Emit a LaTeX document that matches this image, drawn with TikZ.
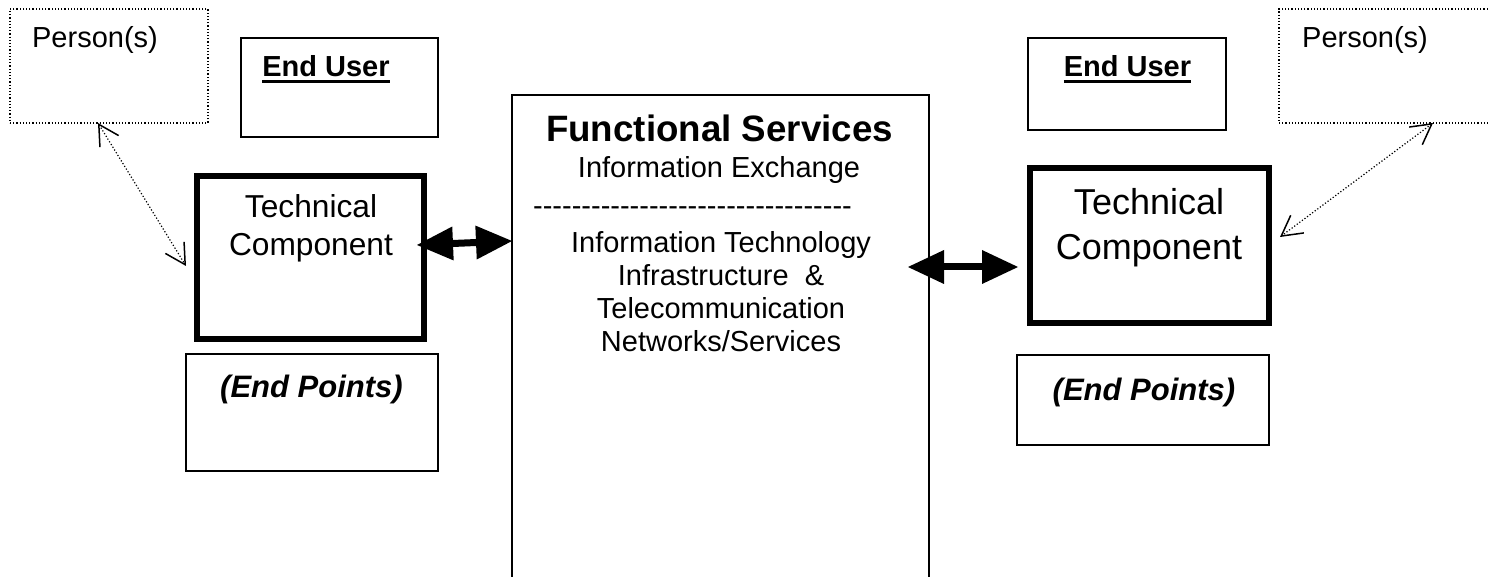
\documentclass[tikz,border=0pt]{standalone}
\usepackage{fontspec}
\setmainfont{Liberation Sans}
\usetikzlibrary{arrows.meta}
\newcommand\fsz[2]{\fontsize{#1}{#2}\selectfont}
\newcommand\linestack[1]{\begin{tabular}[t]{@{}c@{}}#1\end{tabular}}
\newcommand\hy{\mbox{-}}
\newcommand\hyten{\hy\hy\hy\hy\hy\hy\hy\hy\hy\hy}
\begin{document}
\begin{tikzpicture}[x=1pt,y=-1pt,
  box/.style={draw, line width=2pt, inner sep=0pt, outer sep=0pt},
  dotbox/.style={draw, line width=1.2pt, dotted, inner sep=0pt, outer sep=0pt},
  thickbox/.style={draw, line width=6pt, inner sep=0pt, outer sep=0pt},
  txt/.style={inner sep=0pt, outer sep=0pt, anchor=base},
  bigarrow/.style={line width=7pt,
    {Triangle[length=36pt,width=34pt,line width=0pt]}-{Triangle[length=36pt,width=34pt,line width=0pt]}},
  thinarrow/.style={line width=1.2pt, dotted,
    {Straight Barb[length=20pt,width=22pt,line width=1.5pt]}-{Straight Barb[length=20pt,width=22pt,line width=1.5pt]}},
]
\useasboundingbox (0,0) rectangle (1488,577);
\clip (0,0) rectangle (1488,577);

% boxes
\node[dotbox, minimum width=198pt, minimum height=114pt] (lp) at (109,66) {};
\node[dotbox, minimum width=281pt, minimum height=114pt] (rp) at (1419.5,66) {};
\node[box, minimum width=197pt, minimum height=99pt] (leu) at (339,87.5) {};
\node[box, minimum width=198pt, minimum height=92pt] (reu) at (1127,84) {};
\node[thickbox, minimum width=227pt, minimum height=163pt] (ltc) at (310.5,257.5) {};
\node[thickbox, minimum width=239pt, minimum height=155pt] (rtc) at (1149.5,245.5) {};
\node[box, minimum width=252pt, minimum height=117pt] (lep) at (312,412.5) {};
\node[box, minimum width=252pt, minimum height=90pt] (rep) at (1143,400) {};
\node[box, minimum width=417pt, minimum height=605pt] (cs) at (720.5,397.5) {};

% texts
\node[txt] (lpt) at (95,48) {\fsz{29}{33}Person(s)};
\node[txt] (rpt) at (1365,48) {\fsz{29}{33}Person(s)};
\node[txt] (leut) at (326,77) {\fsz{29}{33}\bfseries End User};
\node[txt] (reut) at (1127.5,77) {\fsz{29}{33}\bfseries End User};
\draw[line width=3pt] ([yshift=-4.5pt]leut.base west) -- ([yshift=-4.5pt]leut.base east);
\draw[line width=3pt] ([yshift=-4.5pt]reut.base west) -- ([yshift=-4.5pt]reut.base east);
\node[txt] (ltct) at (311,218) {\fsz{31.7}{38}\linestack{Technical\\Component}};
\node[txt] (rtct) at (1149,215) {\fsz{36}{45}\linestack{Technical\\Component}};
\node[txt] (lept) at (311.5,397) {\fsz{31}{35}\bfseries\itshape (End Points)};
\node[txt] (rept) at (1144,400) {\fsz{31}{35}\bfseries\itshape (End Points)};
\node[txt] (fst) at (719.5,142) {\fsz{36.7}{42}\bfseries Functional Services};
\node[txt] (iet) at (719,178) {\fsz{29}{33}Information Exchange};
\node[txt] (dash) at (692.5,216) {\fsz{29}{33}\hyten\hyten\hyten\hy\hy\hy};
\node[txt] (itt) at (721,253) {\fsz{29}{33}\linestack{Information Technology\\Infrastructure\ \ \&\\Telecommunication\\Networks/Services}};

% connector end points
\coordinate (la1) at (417,245);
\coordinate (la2) at (512,241);
\coordinate (ra1) at (908,267);
\coordinate (ra2) at (1018,267);
\coordinate (ld1) at (98,123);
\coordinate (ld2) at (186,266);
\coordinate (rd1) at (1433,123);
\coordinate (rd2) at (1280,237);

\draw[bigarrow] (la1) -- (la2);
\draw[bigarrow] (ra1) -- (ra2);
\draw[thinarrow] (ld1) -- (ld2);
\draw[thinarrow] (rd1) -- (rd2);
\end{tikzpicture}
\end{document}
